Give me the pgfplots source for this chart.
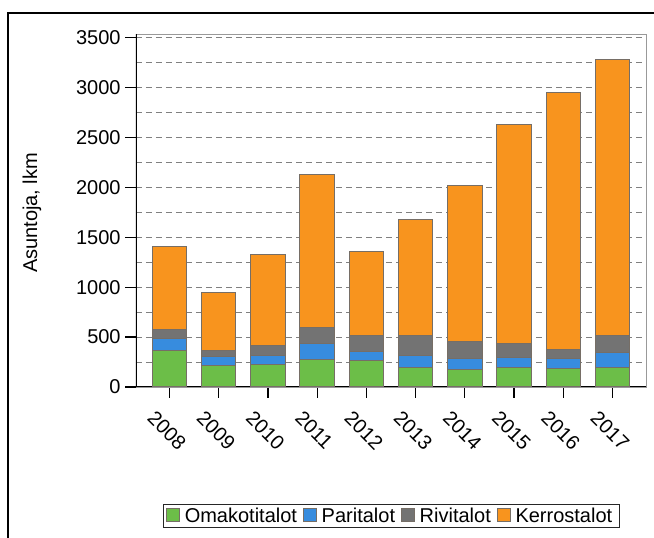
\documentclass[border=0pt]{standalone}
\usepackage{pgfplots}
\usepackage{pgfplotstable}
\usepackage{fontspec}
\setmainfont{Liberation Sans}
\pgfplotsset{compat=1.18}

\definecolor{omak}{RGB}{108,190,72}
\definecolor{pari}{RGB}{55,140,222}
\definecolor{rivi}{RGB}{115,115,115}
\definecolor{kerros}{RGB}{248,148,30}
\definecolor{edge}{RGB}{118,110,102}

% values (lkm)
\pgfplotstableread{
x year omak pari rivi kerros
0 2008 366 117  93  827
1 2009 216  94  60  573
2 2010 226  94  93  910
3 2011 276 164 156 1531
4 2012 263  90 167  840
5 2013 196 117 200 1164
6 2014 173 117 166 1561
7 2015 196 104 133 2194
8 2016 186  97  93 2574
9 2017 196 154 170 2760
}\data

\begin{document}
\begin{tikzpicture}[x=0.75pt,y=0.75pt]
\useasboundingbox (0,0) rectangle (654,538);
\draw[line width=0.9pt] (8,-2) -- (8,525) -- (656,525);
\begin{axis}[
  at={(102pt,113.25pt)}, anchor=south west,
  scale only axis, width=382.5pt, height=264.75pt,
  ybar stacked, bar width=0.70,
  xmin=-0.68, xmax=9.68,
  ymin=0, ymax=3535,
  xtick={0,...,9},
  xticklabels={2008,2009,2010,2011,2012,2013,2014,2015,2016,2017},
  ytick={0,500,...,3500},
  minor ytick={250,750,...,3250},
  ymajorgrids, yminorgrids,
  grid style={black!50, line width=0.75pt, dash pattern=on 4.5pt off 3pt},
  minor tick length=0pt,
  major tick length=8pt,
  tick align=outside, tick pos=left,
  tick style={black, line width=0.9pt},
  axis line style={draw=gray!80, line width=0.6pt},
  font=\fontsize{15}{18}\selectfont,
  /pgf/number format/assume math mode=true,
  /pgf/number format/1000 sep={},
  x tick label style={rotate=-45, anchor=north west, xshift=-4pt, yshift=-10pt},
  ylabel={Asuntoja, lkm},
  ylabel style={at={(axis description cs:-0.204,0.493)}, anchor=center},
  legend columns=4,
  legend style={at={(0.501,-0.331)}, anchor=north, draw=black!85, line width=0.8pt,
    inner xsep=2pt, inner ysep=1pt, font=\fontsize{15}{18}\selectfont,
    nodes={inner xsep=3.5pt, inner ysep=1.6pt},
    /tikz/every even column/.append style={column sep=1pt}},
  legend image code/.code={\draw[#1, draw=edge, line width=0.5pt] (0pt,-4.2pt) rectangle (10pt,5.8pt);},
  every axis plot/.append style={draw=edge, line width=0.8pt},
]
\addplot[fill=omak] table[x=x, y=omak] {\data};
\addplot[fill=pari] table[x=x, y=pari] {\data};
\addplot[fill=rivi] table[x=x, y=rivi] {\data};
\addplot[fill=kerros] table[x=x, y=kerros] {\data};
\legend{Omakotitalot, Paritalot, Rivitalot, Kerrostalot}
\draw[black, line width=1.1pt] (rel axis cs:0,1) -- (rel axis cs:0,0) -- (rel axis cs:1,0);
\end{axis}
\end{tikzpicture}
\end{document}
